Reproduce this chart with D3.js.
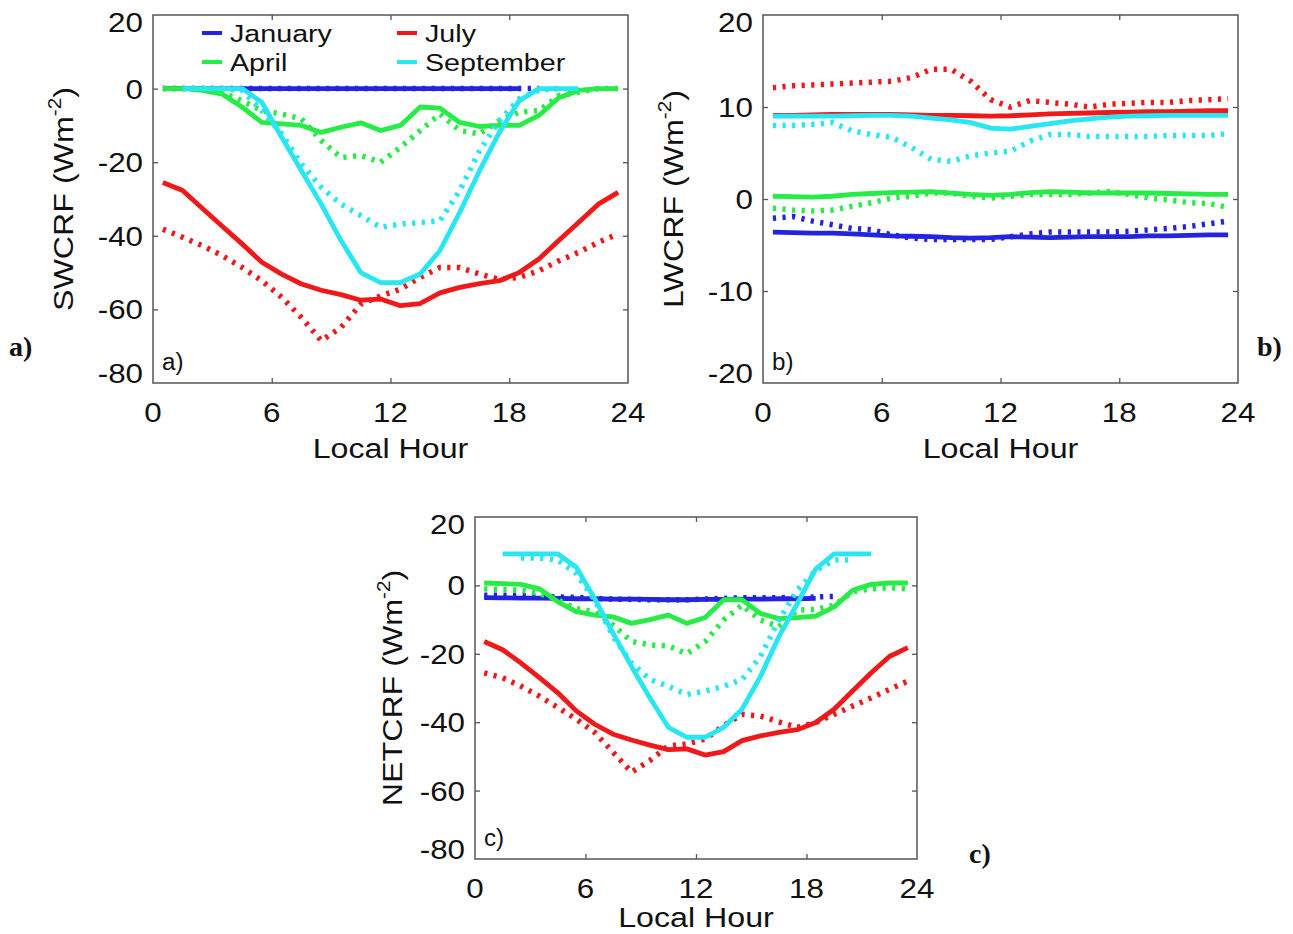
<!DOCTYPE html>
<html>
<head>
<meta charset="utf-8">
<script src="https://cdn.jsdelivr.net/npm/d3@7"></script>
<style>
  html, body { margin: 0; padding: 0; background: #fff; }
  svg { display: block; }
</style>
</head>
<body>
<svg id="chart" width="1293" height="934"></svg>
<script>
// ---------------- DATA ----------------
const hours = d3.range(24).map(i => i + 0.5);
const monthNames = ["January", "April", "July", "September"];
const xTickValues = [0, 6, 12, 18, 24];
const yTicksSW = [20, 0, -20, -40, -60, -80];
const yTicksLW = [20, 10, 0, -10, -20];
const yTicksNET = [20, 0, -20, -40, -60, -80];

// Panel a) SWCRF
const swJanSolid = [0,0,0,0,0,0,0,0,0,0,0,0,0,0,0,0,0,0,0,null,null,null,null,null];
const swJanDot   = [0,0,0,0,0,0,0,0,0,0,0,0,0,0,0,0,0,0,0,0,null,null,null,null];
const swAprSolid = [0,0,-0.5,-1.5,-5,-9.2,-9.6,-10,-11.9,-10.5,-9.3,-11.4,-10,-5,-5.3,-9.2,-10.3,-10,-10,-7.3,-2.5,-0.5,0,0];
const swAprDot   = [0,0,0,-1,-3.3,-6,-6.9,-8.2,-14.1,-18.7,-18.2,-20,-16,-11.4,-6.9,-11.4,-12.3,-8.7,-6.4,-6,-1.9,-1,0,0];
const swJulSolid = [-25.5,-27.7,-32.6,-37.4,-42.2,-47.2,-50.4,-53.1,-54.8,-56.0,-57.5,-57.2,-59,-58.4,-55.5,-54,-53,-52.2,-50,-46.3,-41.3,-36.4,-31.4,-28.2];
const swJulDot   = [-38.2,-40.4,-42.7,-45.4,-48.6,-52.2,-56.7,-62.2,-68.5,-64.9,-58.6,-56.3,-54.5,-51.3,-48.6,-48.6,-50.4,-51.8,-51.3,-49.5,-46.8,-44.5,-41.8,-39.5];
const swSepSolid = [null,0,0,0,0,-3.7,-13.2,-22.3,-31.4,-41.3,-50,-52.7,-52.7,-50.4,-44,-33.6,-22.3,-11.9,-3.3,0,0,0,null,null];
const swSepDot   = [null,null,0,0,-0.5,-6,-12.3,-20.5,-26.8,-31.4,-34.5,-37.7,-36.8,-36.4,-35.9,-27.7,-16.9,-8.7,-2.8,-0.5,0,null,null,null];

// Panel b) LWCRF
const lwJanSolid = [-3.6,-3.65,-3.7,-3.7,-3.8,-3.9,-4.0,-4.05,-4.1,-4.2,-4.25,-4.2,-4.1,-4.15,-4.2,-4.15,-4.1,-4.1,-4.1,-4.0,-4.0,-3.95,-3.9,-3.9];
const lwJanDot   = [-2.1,-1.9,-2.4,-2.8,-3.2,-3.35,-3.9,-4.25,-4.4,-4.4,-4.4,-4.4,-4.1,-3.8,-3.6,-3.6,-3.6,-3.6,-3.5,-3.35,-3.2,-3.0,-2.7,-2.4];
const lwAprSolid = [0.3,0.25,0.2,0.3,0.5,0.6,0.7,0.75,0.8,0.65,0.5,0.4,0.5,0.7,0.8,0.75,0.65,0.65,0.65,0.65,0.6,0.55,0.5,0.5];
const lwAprDot   = [-1.0,-1.2,-1.3,-1.2,-0.8,-0.4,0.1,0.3,0.65,0.65,0.3,0.1,0.3,0.5,0.5,0.5,0.65,0.8,0.5,0.1,-0.1,-0.4,-0.5,-0.9];
const lwJulSolid = [9.1,9.1,9.15,9.2,9.2,9.2,9.2,9.15,9.1,9.1,9.05,9.0,9.05,9.15,9.25,9.3,9.35,9.4,9.45,9.5,9.5,9.55,9.6,9.6];
const lwJulDot   = [12.1,12.3,12.4,12.5,12.6,12.7,12.8,13.2,14.1,14.1,12.8,10.8,10.0,10.7,10.5,10.3,10.0,10.3,10.4,10.5,10.5,10.7,10.8,10.9];
const lwSepSolid = [9.0,9.0,9.0,9.0,9.05,9.1,9.1,9.0,8.8,8.6,8.3,7.7,7.6,7.9,8.2,8.5,8.7,8.9,9.0,9.05,9.1,9.1,9.1,9.1];
const lwSepDot   = [8.0,8.0,8.1,8.3,7.4,7.0,6.7,5.6,4.3,4.1,4.7,5.0,5.2,6.3,7.0,7.0,6.8,6.8,6.8,6.8,6.9,6.9,6.9,7.1];

// Panel c) NETCRF
const netJanSolid = [-3.6,-3.65,-3.7,-3.7,-3.8,-3.9,-3.9,-4.0,-4.0,-4.1,-4.2,-4.2,-4.1,-4.1,-4.0,-4.0,-3.9,-3.9,-3.8,null,null,null,null,null];
const netJanDot   = [-2.9,-2.9,-3.0,-3.2,-3.4,-3.5,-3.8,-4.0,-4.1,-4.2,-4.2,-4.2,-4.0,-3.8,-3.6,-3.6,-3.6,-3.5,-3.4,-3.2,null,null,null,null];
const netAprSolid = [0.7,0.5,0.3,-1,-4.8,-7.7,-8.7,-9.2,-11.1,-10,-8.7,-11.1,-9.4,-4.2,-4.2,-8.2,-9.7,-9.4,-9,-6.3,-1.4,0.3,0.7,0.7];
const netAprDot   = [-1,-1.2,-1.4,-2.4,-4.3,-6.8,-7.7,-11.6,-16.4,-17.4,-17.7,-20,-16.4,-10.1,-5.8,-10.1,-12.1,-7.2,-7,-5.8,-1.9,-1,-0.7,-1];
const netJulSolid = [-16.4,-18.8,-22.7,-27,-31.4,-36.7,-40.6,-43.5,-45.2,-46.7,-48,-47.8,-49.6,-48.6,-45.4,-44,-43,-42.2,-40.1,-36.2,-30.9,-25.6,-20.8,-18.2];
const netJulDot   = [-25.6,-27,-29.5,-32.4,-35.7,-39.1,-43,-48.8,-54.6,-51.2,-46.9,-46.4,-44.9,-41,-37.7,-38.2,-39.9,-41.5,-40.1,-37.7,-35.3,-32.9,-30.4,-28];
const netSepSolid = [null,9.2,9.2,9.2,9.2,5.3,-3.9,-14,-23.7,-32.9,-41.5,-44.4,-44.4,-41.5,-36.2,-26.6,-15,-5.3,4.8,9.2,9.2,9.2,null,null];
const netSepDot   = [null,null,8.0,8.0,7.4,3.4,-4.3,-15,-22.7,-27.5,-29.5,-31.9,-30.9,-29.5,-27.5,-20.8,-10.1,-1.4,4.3,7.4,7.4,null,null,null];

// ---------------- STYLE ----------------
const colors = ["#2424e0", "#26ec46", "#f01818", "#28e6f2"];
const FONT = "'Liberation Sans', Arial, Helvetica, sans-serif";
const SERIF = "'Liberation Serif', 'Times New Roman', serif";
const AXIS_COLOR = "#555";

const svg = d3.select("#chart");
svg.append("rect").attr("width", 1293).attr("height", 934).attr("fill", "#fff");

function stretchedText(g, x, y, str, fs, sx, anchor, opts = {}) {
  const t = g.append("text")
    .attr("transform", `translate(${x},${y}) scale(${sx},1)`)
    .attr("text-anchor", anchor)
    .attr("font-family", opts.family || FONT)
    .attr("font-size", fs)
    .attr("font-weight", opts.weight || "normal")
    .attr("fill", "#111");
  return t.text(str);
}

const panels = [
  { key: "a", box: [153, 628, 15, 383], domain: [-80, 20], yTicks: yTicksSW, title: "SWCRF",
    series: [[swJanSolid, swJanDot], [swAprSolid, swAprDot], [swJulSolid, swJulDot], [swSepSolid, swSepDot]],
    titleX: 63, outer: { x: 9, y: 356 }, xTitleDy: 75, legend: true },
  { key: "b", box: [763, 1238, 15, 383], domain: [-20, 20], yTicks: yTicksLW, title: "LWCRF",
    series: [[lwJanSolid, lwJanDot], [lwAprSolid, lwAprDot], [lwJulSolid, lwJulDot], [lwSepSolid, lwSepDot]],
    titleX: 673, outer: { x: 1257, y: 356 }, xTitleDy: 75 },
  { key: "c", box: [475, 917, 517, 859], domain: [-80, 20], yTicks: yTicksNET, title: "NETCRF",
    series: [[netJanSolid, netJanDot], [netAprSolid, netAprDot], [netJulSolid, netJulDot], [netSepSolid, netSepDot]],
    titleX: 392, outer: { x: 969, y: 863 }, xTitleDy: 68 }
];

panels.forEach(p => {
  const [x0, x1, y0, y1] = p.box;
  const x = d3.scaleLinear().domain([0, 24]).range([x0, x1]);
  const y = d3.scaleLinear().domain(p.domain).range([y1, y0]);
  const g = svg.append("g");

  // ticks (inward, on all four sides) using d3 axes
  const inner = [6, 12, 18];
  const yInner = p.yTicks.filter(v => v !== p.domain[0] && v !== p.domain[1]);
  const tl = 5;
  const axes = [
    [d3.axisBottom(x).tickValues(inner).tickSize(-tl), `translate(0,${y1})`],
    [d3.axisTop(x).tickValues(inner).tickSize(-tl), `translate(0,${y0})`],
    [d3.axisLeft(y).tickValues(yInner).tickSize(-tl), `translate(${x0},0)`],
    [d3.axisRight(y).tickValues(yInner).tickSize(-tl), `translate(${x1},0)`]
  ];
  axes.forEach(([ax, tr]) => {
    const a = g.append("g").attr("transform", tr).call(ax.tickFormat(""));
    a.select(".domain").remove();
    a.selectAll("line").attr("stroke", AXIS_COLOR).attr("stroke-width", 1.3);
  });

  // lines
  const line = d3.line()
    .defined(d => d[1] !== null)
    .x(d => x(d[0]))
    .y(d => y(d[1]));
  p.series.forEach((pair, mi) => {
    pair.forEach((vals, si) => {
      const pts = hours.map((h, i) => [h, vals[i]]);
      const path = g.append("path")
        .attr("d", line(pts))
        .attr("fill", "none")
        .attr("stroke", colors[mi]);
      if (si === 0) {
        path.attr("stroke-width", 4.8).attr("stroke-linejoin", "round");
      } else {
        path.attr("stroke-width", 5.5).attr("stroke-dasharray", "3.2,6.4").attr("stroke-linecap", "butt");
      }
    });
  });

  // box
  g.append("rect")
    .attr("x", x0).attr("y", y0)
    .attr("width", x1 - x0).attr("height", y1 - y0)
    .attr("fill", "none").attr("stroke", AXIS_COLOR).attr("stroke-width", 1.5);

  // y tick labels
  p.yTicks.forEach(v => {
    let yy = y(v);
    if (v === p.domain[1]) yy += 7;
    if (v === p.domain[0]) yy -= 10;
    stretchedText(g, x0 - 10, yy + 10, String(v), 28, 1.12, "end");
  });
  // x tick labels
  xTickValues.forEach(v => {
    stretchedText(g, x(v), y1 + 39, String(v), 28, 1.12, "middle");
  });
  // x title
  stretchedText(g, x(12), y1 + p.xTitleDy, "Local Hour", 28, 1.15, "middle");

  // y title (rotated)
  const yc = (y0 + y1) / 2;
  const t = g.append("text")
    .attr("transform", `translate(${p.titleX + 10},${yc}) rotate(-90) scale(1.15,1)`)
    .attr("text-anchor", "middle")
    .attr("font-family", FONT)
    .attr("font-size", 28)
    .attr("fill", "#111");
  t.append("tspan").text(p.title + " (Wm");
  t.append("tspan").attr("font-size", 18).attr("dy", -12).text("-2");
  t.append("tspan").attr("dy", 12).text(")");

  // inner panel letter
  stretchedText(g, x0 + 9, y1 - 13, p.key + ")", 23, 1.05, "start");
  // outer bold serif letter
  stretchedText(g, p.outer.x, p.outer.y, p.key + ")", 28, 1.0, "start", { family: SERIF, weight: "bold" });

  // legend
  if (p.legend) {
    const legPos = [[202, 33], [202, 62], [397, 33], [397, 62]];
    monthNames.forEach((name, i) => {
      const [lx, ly] = legPos[i];
      g.append("line").attr("x1", lx).attr("x2", lx + 20).attr("y1", ly).attr("y2", ly)
        .attr("stroke", colors[i]).attr("stroke-width", 4);
      stretchedText(g, lx + 28, ly + 9, name, 24.5, 1.17, "start");
    });
  }
});
</script>
</body>
</html>
